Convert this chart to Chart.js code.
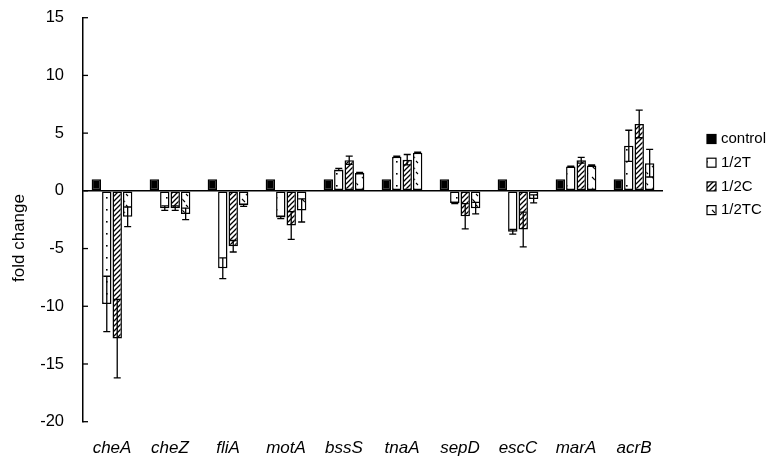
<!DOCTYPE html>
<html>
<head>
<meta charset="utf-8">
<script src="https://cdn.jsdelivr.net/npm/chart.js@4.4.1/dist/chart.umd.min.js"></script>
<style>
  html, body { margin: 0; padding: 0; background: #fff; }
</style>
</head>
<body>
<canvas id="foldChart" width="778" height="459"></canvas>
<script>
/******************************************************************
DATA
******************************************************************/

var genes = ["cheA", "cheZ", "fliA", "motA", "bssS", "tnaA", "sepD", "escC", "marA", "acrB"];
var seriesNames = ["control", "1/2T", "1/2C", "1/2TC"];
var yTicks = [-20, -15, -10, -5, 0, 5, 10, 15];

var control = [1, 1, 1, 1, 1, 1, 1, 1, 1, 1];
var halfT = [-9.8, -1.5, -6.7, -2.3, 1.85, 2.95, -1.05, -3.55, 2.1, 3.9];
var halfTErr = [2.4, 0.2, 0.9, 0.1, 0.1, 0.05, 0.05, 0.2, 0.05, 1.35];
var halfC = [-12.8, -1.5, -4.8, -3.0, 2.65, 2.7, -2.2, -3.35, 2.65, 5.8];
var halfCErr = [3.4, 0.2, 0.5, 1.2, 0.35, 0.45, 1.1, 1.5, 0.25, 1.2];
var halfTC = [-2.25, -2.0, -1.25, -1.7, 1.55, 3.3, -1.5, -0.7, 2.2, 2.4];
var halfTCErr = [0.85, 0.5, 0.1, 1.0, 0.05, 0.05, 0.5, 0.35, 0.05, 1.2];

var FONT = "'Liberation Sans', Arial, sans-serif";

/******************************************************************
FILL PATTERNS
******************************************************************/

function makePattern(w, h, drawFn) {
  var c = document.createElement("canvas");
  c.width = w;
  c.height = h;
  var p = c.getContext("2d");
  p.fillStyle = "#fff";
  p.fillRect(0, 0, w, h);
  p.strokeStyle = "#000";
  p.fillStyle = "#000";
  drawFn(p);
  return p.createPattern(c, "repeat");
}

var dotFill = makePattern(10, 12, function (p) {
  p.fillRect(6, 5, 1.6, 1.6);
});

var hatchFill = makePattern(5, 5, function (p) {
  p.lineWidth = 1.3;
  p.beginPath();
  p.moveTo(-1, 6); p.lineTo(6, -1);
  p.moveTo(-1, 1); p.lineTo(1, -1);
  p.moveTo(4, 6); p.lineTo(6, 4);
  p.stroke();
});

var dashFill = makePattern(10, 11, function (p) {
  p.lineWidth = 1.1;
  p.beginPath();
  p.moveTo(2, 1); p.lineTo(5, 4);
  p.moveTo(6, 7); p.lineTo(8, 9);
  p.stroke();
});

/******************************************************************
PLUGINS
******************************************************************/

var errorBars = {
  id: "errorBars",
  afterDatasetsDraw: function (chart) {
    var ctx = chart.ctx;
    var yScale = chart.scales.y;
    ctx.save();
    ctx.strokeStyle = "#000";
    ctx.lineWidth = 1.3;
    chart.data.datasets.forEach(function (ds, di) {
      if (!ds.errors) return;
      var meta = chart.getDatasetMeta(di);
      meta.data.forEach(function (bar, i) {
        var v = ds.data[i];
        var e = ds.errors[i];
        var y1 = yScale.getPixelForValue(v + e);
        var y2 = yScale.getPixelForValue(v - e);
        ctx.beginPath();
        ctx.moveTo(bar.x, y1); ctx.lineTo(bar.x, y2);
        ctx.moveTo(bar.x - 3.5, y1); ctx.lineTo(bar.x + 3.5, y1);
        ctx.moveTo(bar.x - 3.5, y2); ctx.lineTo(bar.x + 3.5, y2);
        ctx.stroke();
      });
    });
    ctx.restore();
  }
};

var axisExtras = {
  id: "axisExtras",
  afterDraw: function (chart) {
    var ctx = chart.ctx;
    var yScale = chart.scales.y;
    var left = chart.chartArea.left;
    ctx.save();
    // inner tick marks
    ctx.strokeStyle = "#000";
    ctx.lineWidth = 1.3;
    yTicks.forEach(function (t) {
      var py = yScale.getPixelForValue(t);
      ctx.beginPath();
      ctx.moveTo(left, py);
      ctx.lineTo(left + 5, py);
      ctx.stroke();
    });
    // y title
    ctx.fillStyle = "#000";
    ctx.font = "17px " + FONT;
    ctx.textAlign = "center";
    ctx.textBaseline = "middle";
    ctx.translate(19, 238);
    ctx.rotate(-Math.PI / 2);
    ctx.fillText("fold change", 0, 0);
    ctx.restore();

    // legend
    ctx.save();
    ctx.font = "15px " + FONT;
    ctx.textAlign = "left";
    ctx.textBaseline = "middle";
    chart.data.datasets.forEach(function (ds, i) {
      var cy = 139 + i * 23.7;
      ctx.fillStyle = ds.backgroundColor;
      ctx.fillRect(707, cy - 4.5, 9, 9);
      ctx.strokeStyle = "#000";
      ctx.lineWidth = 1.2;
      ctx.strokeRect(707, cy - 4.5, 9, 9);
      ctx.fillStyle = "#000";
      ctx.fillText(ds.label, 721, cy);
    });
    ctx.restore();
  }
};

/******************************************************************
CHART
******************************************************************/

function barSet(label, values, errors, fill) {
  return {
    label: label,
    data: values,
    errors: errors,
    backgroundColor: fill,
    borderColor: "#000",
    borderWidth: 1.5,
    borderSkipped: false,
    categoryPercentage: 0.72,
    barPercentage: 0.9
  };
}

var foldChart = new Chart(document.getElementById("foldChart").getContext("2d"), {
  type: "bar",
  data: {
    labels: genes,
    datasets: [
      barSet(seriesNames[0], control, null, "#000"),
      barSet(seriesNames[1], halfT, halfTErr, dotFill),
      barSet(seriesNames[2], halfC, halfCErr, hatchFill),
      barSet(seriesNames[3], halfTC, halfTCErr, dashFill)
    ]
  },
  options: {
    responsive: false,
    animation: false,
    layout: { padding: { top: 17.7, right: 115, left: 0, bottom: 0 } },
    plugins: {
      legend: { display: false },
      tooltip: { enabled: false }
    },
    scales: {
      x: {
        grid: { display: false },
        border: { display: false },
        ticks: {
          color: "#000",
          padding: 8,
          font: { family: FONT, size: 17, style: "italic" }
        },
        afterFit: function (scale) { scale.height = 37.3; }
      },
      y: {
        min: -20,
        max: 15,
        afterBuildTicks: function (scale) {
          scale.ticks = yTicks.map(function (v) { return { value: v }; });
        },
        grid: {
          drawTicks: true,
          tickLength: 19,
          tickColor: "rgba(0,0,0,0)",
          lineWidth: 1.5,
          color: function (c) { return c.tick && c.tick.value === 0 ? "#000" : "rgba(0,0,0,0)"; }
        },
        border: { display: true, color: "#000", width: 1.5 },
        ticks: {
          color: "#000",
          padding: 0,
          font: { family: FONT, size: 16.5 }
        },
        afterFit: function (scale) { scale.width = 83; }
      }
    }
  },
  plugins: [errorBars, axisExtras]
});
</script>
</body>
</html>
